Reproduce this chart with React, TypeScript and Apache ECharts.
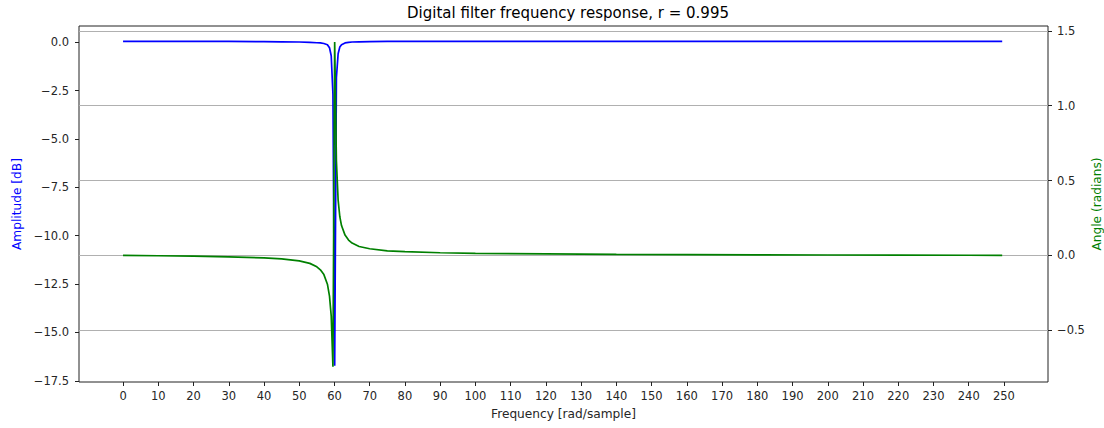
import React, { useEffect, useRef } from "react";
import * as echarts from "echarts";

// Frequency samples (rad/sample axis as labelled), denser around the 60 notch
const freq = [
  0, 10, 20, 30, 40, 45, 50, 53, 55, 56,
  57, 58, 58.59, 59.08, 59.57, 60.06, 60.55, 61.04, 61.52, 62,
  63, 64, 65, 67, 70, 75, 80, 90, 100, 120,
  140, 160, 180, 200, 220, 240, 249.5,
];

// Amplitude [dB]
const amplitudeDb = [
  0.04, 0.04, 0.04, 0.04, 0.03, 0.02, 0.01, -0.01, -0.03, -0.04,
  -0.07, -0.13, -0.29, -0.7, -2.69, -16.72, -1.84, -0.6, -0.25, -0.13,
  -0.04, -0.01, 0.01, 0.02, 0.03, 0.04, 0.04, 0.04, 0.04, 0.04,
  0.04, 0.04, 0.04, 0.04, 0.04, 0.04, 0.04,
];

// Angle (radians)
const phaseRad = [
  0, -0.003, -0.006, -0.01, -0.017, -0.024, -0.037, -0.054, -0.077, -0.097,
  -0.129, -0.193, -0.273, -0.406, -0.745, 1.426, 0.631, 0.369, 0.258, 0.199,
  0.135, 0.102, 0.082, 0.059, 0.044, 0.03, 0.024, 0.017, 0.013, 0.009,
  0.006, 0.004, 0.003, 0.002, 0.001, 0.0005, 0,
];

const xTicks = [
  0, 10, 20, 30, 40, 50, 60, 70, 80, 90, 100, 110, 120, 130, 140, 150,
  160, 170, 180, 190, 200, 210, 220, 230, 240, 250,
];
const leftTicks = [0, -2.5, -5, -7.5, -10, -12.5, -15, -17.5];
const rightTicks = [-0.5, 0, 0.5, 1, 1.5];

const fmt = (v: number) => v.toFixed(1).replace("-", "\u2212");

export default function App() {
  const ref = useRef<HTMLDivElement>(null);
  useEffect(() => {
    const chart = echarts.init(ref.current!, null, { renderer: "svg" });
    const font = "DejaVu Sans";
    const tickColor = "#262626";
    chart.setOption({
      animation: false,
      backgroundColor: "#ffffff",
      textStyle: { fontFamily: font },
      title: {
        text: "Digital filter frequency response, r = 0.995",
        left: 563,
        textAlign: "center",
        top: 0,
        textStyle: { fontFamily: font, fontSize: 15, fontWeight: "normal", color: "#000" },
      },
      grid: {
        left: 79,
        right: 56,
        top: 26,
        bottom: 46,
        show: true,
        borderColor: "#222",
        borderWidth: 1,
        backgroundColor: "transparent",
        outerBoundsMode: "none",
        containLabel: false,
      },
      graphic: [
        {
          type: "text",
          x: 1097,
          y: 204,
          rotation: Math.PI / 2,
          style: {
            text: "Angle (radians)",
            fill: "#008000",
            font: `12.2px "${font}"`,
            textAlign: "center",
            textVerticalAlign: "middle",
          },
        },
      ],
      xAxis: {
        type: "value",
        min: -12.5,
        max: 262.5,
        axisLine: { show: false, onZero: false },
        axisTick: {
          show: true,
          customValues: xTicks,
          length: 4,
          lineStyle: { color: "#222", width: 1 },
        },
        axisLabel: {
          customValues: xTicks,
          fontSize: 11.5,
          color: tickColor,
          margin: 8,
          fontFamily: font,
        },
        splitLine: { show: false },
        name: "Frequency [rad/sample]",
        nameLocation: "middle",
        nameGap: 26,
        nameTextStyle: { fontSize: 12.2, color: tickColor, fontFamily: font },
      },
      yAxis: [
        {
          type: "value",
          position: "left",
          min: -17.56,
          max: 0.836,
          axisLine: { show: false, onZero: false },
          axisTick: {
            show: true,
            customValues: leftTicks,
            length: 4,
            lineStyle: { color: "#222", width: 1 },
          },
          axisLabel: {
            customValues: leftTicks,
            formatter: fmt,
            fontSize: 11.5,
            color: tickColor,
            margin: 10,
            fontFamily: font,
          },
          splitLine: { show: false },
          name: "Amplitude [dB]",
          nameLocation: "middle",
          nameGap: 54,
          nameRotate: 90,
          nameTextStyle: { fontSize: 12.2, color: "#0000ff", fontFamily: font },
        },
        {
          type: "value",
          position: "right",
          min: -0.847,
          max: 1.533,
          axisLine: { show: false, onZero: false },
          axisTick: {
            show: true,
            customValues: rightTicks,
            length: 4,
            lineStyle: { color: "#222", width: 1 },
          },
          axisLabel: {
            customValues: rightTicks,
            formatter: fmt,
            fontSize: 11.5,
            color: tickColor,
            margin: 9,
            fontFamily: font,
          },
          splitLine: { show: true, lineStyle: { color: "#b0b0b0", width: 1 } },
        },
      ],
      series: [
        {
          type: "line",
          yAxisIndex: 0,
          data: freq.map((f, i) => [f, amplitudeDb[i]]),
          showSymbol: false,
          lineStyle: { color: "#0000ff", width: 1.7 },
          itemStyle: { color: "#0000ff" },
          z: 2,
        },
        {
          type: "line",
          yAxisIndex: 1,
          data: freq.map((f, i) => [f, phaseRad[i]]),
          showSymbol: false,
          lineStyle: { color: "#008000", width: 1.7 },
          itemStyle: { color: "#008000" },
          z: 3,
        },
      ],
    });
    return () => chart.dispose();
  }, []);
  return (
    <div
      ref={ref}
      style={{ position: "fixed", left: 0, top: 0, width: 1104, height: 428, background: "#fff" }}
    />
  );
}
